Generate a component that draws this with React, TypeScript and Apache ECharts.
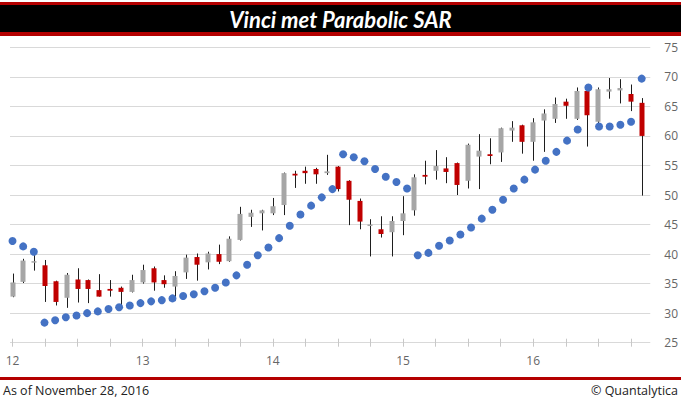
import React, { useEffect, useRef } from "react";
import * as echarts from "echarts";

const years = ["12", "13", "14", "15", "16"];
const months: string[] = [];
for (const y of years) {
  for (let m = 1; m <= 12; m++) {
    if (y === "16" && m > 11) break;
    months.push(`20${y}-${String(m).padStart(2, "0")}`);
  }
}
const sarPeriods = [...months, "2016-12"];

const opens = [
  32.8, 35.3, 38.6, 38.1, 35.4, 32.6, 35.7, 35.6, 33.9, 34.1, 34.3, 33.6,
  35.2, 37.6, 35.6, 34.5, 36.9, 39.5, 38.6, 40.0, 38.8, 42.4, 46.3, 46.9,
  46.9, 48.3, 53.6, 54.1, 54.4, 53.7, 54.8, 52.4, 49.0, 44.8, 44.2, 43.7,
  45.6, 47.4, 53.4, 54.1, 54.5, 55.4, 52.4, 56.5, 56.9, 57.2, 60.9, 61.8,
  59.0, 62.6, 62.9, 65.8, 62.9, 67.6, 62.4, 67.5, 67.7, 67.1, 65.6,
];
const closes = [
  35.2, 38.9, 38.8, 34.6, 31.9, 36.5, 34.1, 34.1, 32.8, 33.8, 33.6, 35.6,
  37.3, 35.2, 34.9, 36.3, 39.4, 38.2, 40.1, 38.7, 42.6, 46.8, 47.0, 47.4,
  48.1, 53.7, 53.3, 53.7, 53.5, 54.0, 51.0, 49.2, 45.5, 45.0, 43.4, 45.6,
  46.9, 53.0, 53.1, 54.9, 53.9, 51.7, 58.5, 57.5, 56.6, 61.3, 61.4, 59.0,
  62.3, 63.8, 65.4, 65.1, 67.6, 63.5, 67.9, 67.9, 68.1, 65.8, 60.0,
];
const lows = [
  32.7, 35.1, 37.2, 31.9, 31.3, 30.9, 31.8, 31.7, 32.8, 32.8, 31.3, 33.5,
  35.0, 33.8, 34.3, 32.6, 35.8, 35.5, 37.4, 38.3, 38.7, 42.3, 44.6, 44.0,
  46.6, 46.6, 51.2, 51.9, 51.9, 53.4, 50.6, 44.9, 44.2, 39.6, 42.8, 39.6,
  43.2, 46.5, 51.8, 52.6, 52.0, 50.0, 51.1, 51.0, 55.2, 55.6, 59.0, 57.0,
  55.8, 57.3, 62.2, 62.9, 62.7, 58.2, 62.2, 66.3, 65.5, 64.2, 49.9,
];
const highs = [
  36.7, 39.2, 39.9, 39.0, 35.5, 36.8, 37.6, 35.7, 36.6, 35.6, 34.5, 36.5,
  38.2, 37.9, 36.4, 37.1, 39.9, 40.1, 40.4, 41.6, 43.0, 48.0, 47.5, 47.5,
  49.5, 53.8, 54.1, 54.8, 54.6, 56.8, 54.9, 52.5, 49.4, 45.9, 46.4, 46.4,
  49.8, 53.5, 55.8, 57.6, 56.4, 55.5, 58.7, 60.3, 59.6, 61.4, 62.5, 61.9,
  63.0, 64.5, 66.5, 66.3, 68.2, 68.2, 68.2, 69.8, 69.6, 68.7, 66.4,
];
const sar = [
  42.2, 41.3, 40.4, 28.4, 28.8, 29.3, 29.6, 30.0, 30.3, 30.7, 31.0, 31.3,
  31.7, 32.0, 32.2, 32.5, 32.9, 33.2, 33.7, 34.3, 35.2, 36.4, 38.2, 39.8,
  41.1, 42.7, 44.8, 46.7, 48.2, 49.6, 51.0, 56.9, 56.4, 55.7, 54.4, 53.1,
  52.2, 51.1, 39.8, 40.2, 41.4, 42.3, 43.3, 44.5, 46.0, 47.5, 49.2, 51.1,
  52.6, 54.3, 55.8, 57.3, 59.2, 61.1, 68.2, 61.6, 61.6, 61.9, 62.4, 69.7,
];

const TITLE = "Vinci met Parabolic SAR";
const FOOT_LEFT = "As of November 28, 2016";
const FOOT_RIGHT = "© Quantalytica";

const TOP = 47.3;
const BOTTOM = 56.3;

export default function App() {
  const ref = useRef<HTMLDivElement>(null);
  useEffect(() => {
    if (!ref.current) return;
    const chart = echarts.init(ref.current, null, { renderer: "svg" });
    const candleData = months.map((m, i) => [i, opens[i], closes[i], lows[i], highs[i]]);
    chart.setOption({
      animation: false,
      backgroundColor: "#ffffff",
      grid: [
        { left: 12.5, right: 39.3, top: TOP, bottom: BOTTOM },
        { left: 10, right: 29, top: TOP, bottom: BOTTOM },
      ],
      xAxis: [
        {
          type: "category",
          gridIndex: 0,
          data: months,
          boundaryGap: false,
          offset: -4,
          axisLine: { show: false },
          axisTick: { show: true, interval: 2, length: 8, lineStyle: { color: "#c8c8c8" } },
          axisLabel: {
            interval: (idx: number) => idx % 12 === 0,
            formatter: (v: string) => v.slice(2, 4),
            color: "#666666",
            fontFamily: "Open Sans",
            fontSize: 12,
            margin: 16,
          },
          splitLine: { show: false },
        },
        { type: "value", gridIndex: 1, min: 0, max: 1, show: false },
        {
          type: "category",
          gridIndex: 0,
          data: sarPeriods,
          boundaryGap: false,
          show: false,
        },
      ],
      yAxis: [
        { type: "value", gridIndex: 0, min: 25, max: 75, interval: 5, show: false },
        {
          type: "value",
          gridIndex: 1,
          position: "right",
          min: 25,
          max: 75,
          interval: 5,
          axisLine: { show: false },
          axisTick: { show: false },
          splitLine: { show: true, lineStyle: { color: "#d9d9d9", width: 1 } },
          axisLabel: {
            color: "#666666",
            fontFamily: "Open Sans",
            fontSize: 12,
            margin: 14,
          },
        },
      ],
      series: [
        {
          type: "custom",
          xAxisIndex: 0,
          yAxisIndex: 0,
          clip: false,
          data: candleData,
          encode: { x: 0, y: [1, 2, 3, 4] },
          renderItem: (params: any, api: any) => {
            const i = api.value(0);
            const o = api.value(1);
            const c = api.value(2);
            const l = api.value(3);
            const h = api.value(4);
            const pH = api.coord([i, h]);
            const pL = api.coord([i, l]);
            const pO = api.coord([i, o]);
            const pC = api.coord([i, c]);
            const x = Math.round(pH[0]) + 0.5;
            const top = Math.min(pO[1], pC[1]);
            const hgt = Math.max(Math.abs(pO[1] - pC[1]), 1.5);
            const color = c >= o ? "#a6a6a6" : "#c00000";
            return {
              type: "group",
              children: [
                {
                  type: "line",
                  shape: { x1: x, y1: pH[1], x2: x, y2: pL[1] },
                  style: { stroke: "#1e1e1e", lineWidth: 1 },
                },
                {
                  type: "rect",
                  shape: { x: x - 3, y: top, width: 5, height: hgt },
                  style: { fill: color },
                },
              ],
            };
          },
        },
        {
          type: "scatter",
          xAxisIndex: 2,
          yAxisIndex: 0,
          data: sar,
          symbol: "circle",
          symbolSize: 8,
          itemStyle: { color: "#4472c4", opacity: 1 },
          z: 5,
        },
      ],
      graphic: [
        { type: "rect", left: 0, top: 2, shape: { width: 681, height: 34 }, style: { fill: "#b40000" } },
        { type: "rect", left: 0, top: 5, shape: { width: 681, height: 27 }, style: { fill: "#000000" } },
        {
          type: "text",
          x: 340.5,
          y: 19,
          style: {
            text: TITLE,
            fill: "#ffffff",
            font: "italic bold 22px Lato",
            textAlign: "center",
            textVerticalAlign: "middle",
          },
        },
        { type: "rect", left: 0, top: 377, shape: { width: 681, height: 3 }, style: { fill: "#b40000" } },
        {
          type: "text",
          x: 3,
          y: 390,
          style: {
            text: FOOT_LEFT,
            fill: "#222222",
            font: "12.5px 'Open Sans'",
            textAlign: "left",
            textVerticalAlign: "middle",
          },
        },
        {
          type: "text",
          x: 678,
          y: 390,
          style: {
            text: FOOT_RIGHT,
            fill: "#222222",
            font: "12.5px 'Open Sans'",
            textAlign: "right",
            textVerticalAlign: "middle",
          },
        },
      ],
    });
    return () => chart.dispose();
  }, []);
  return (
    <div
      ref={ref}
      style={{ position: "fixed", left: 0, top: 0, width: 681, height: 399, background: "#fff" }}
    />
  );
}
